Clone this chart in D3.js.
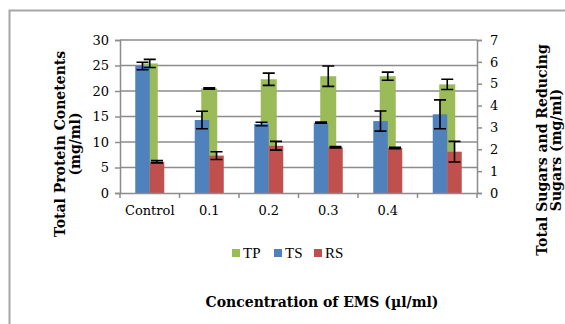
<!DOCTYPE html>
<html>
<head>
<meta charset="utf-8">
<script src="https://cdn.jsdelivr.net/npm/d3@7"></script>
<style>
  body { margin: 0; background: #fff; }
  text { font-family: "Liberation Serif", "DejaVu Serif", serif; fill: #000; }
</style>
</head>
<body>
<svg id="chart" width="565" height="324"></svg>
<script>
// data
var categories = ["Control", "0.1", "0.2", "0.3", "0.4", ""];
var tp    = [25.4, 20.5, 22.3, 22.9, 22.9, 21.3];   // left axis, mg/ml
var tpErr = [0.8, 0.15, 1.2, 2.0, 0.8, 1.0];
var ts    = [5.81, 3.34, 3.16, 3.22, 3.29, 3.6];    // right axis
var tsErr = [0.17, 0.4, 0.08, 0.03, 0.46, 0.66];
var rs    = [1.43, 1.71, 2.16, 2.09, 2.06, 1.89];   // right axis
var rsErr = [0.05, 0.18, 0.2, 0.03, 0.03, 0.47];
var leftTicks = [0, 5, 10, 15, 20, 25, 30];
var rightTicks = [0, 1, 2, 3, 4, 5, 6, 7];

var svg = d3.select("#chart");
var plot = {left: 120, right: 477, top: 40, bottom: 193};
var serif = "'DejaVu Serif', serif";

// chart border
svg.append("path")
  .attr("d", "M9.5,324 L9.5,10.5 L565,10.5")
  .attr("fill", "none").attr("stroke", "#a6a6a6").attr("stroke-width", 2);

var x = d3.scaleBand().domain(d3.range(categories.length))
    .range([plot.left, plot.right]);
var yL = d3.scaleLinear().domain([0, 30]).range([plot.bottom, plot.top]);
var yR = d3.scaleLinear().domain([0, 7]).range([plot.bottom, plot.top]);

// grid
svg.append("g").selectAll("line").data(leftTicks.slice(1)).enter().append("line")
  .attr("x1", plot.left).attr("x2", plot.right)
  .attr("y1", function(d) { return yL(d); }).attr("y2", function(d) { return yL(d); })
  .attr("stroke", "#8c8c8c").attr("stroke-width", 1.5);

var bw = 14.5;
function cx(i) { return x(i) + x.bandwidth() / 2; }

// TP (primary) drawn behind
svg.append("g").selectAll("rect").data(tp).enter().append("rect")
  .attr("x", function(d, i) { return cx(i) - 8; })
  .attr("width", 16)
  .attr("y", function(d) { return yL(d); })
  .attr("height", function(d) { return yL(0) - yL(d); })
  .attr("fill", "#9bbb59");

svg.append("g").selectAll("rect").data(ts).enter().append("rect")
  .attr("x", function(d, i) { return cx(i) - bw; })
  .attr("width", bw)
  .attr("y", function(d) { return yR(d); })
  .attr("height", function(d) { return yR(0) - yR(d); })
  .attr("fill", "#4f81bd");

svg.append("g").selectAll("rect").data(rs).enter().append("rect")
  .attr("x", function(d, i) { return cx(i); })
  .attr("width", bw)
  .attr("y", function(d) { return yR(d); })
  .attr("height", function(d) { return yR(0) - yR(d); })
  .attr("fill", "#c0504d");

// error bars
function errBars(vals, errs, scale, off) {
  var g = svg.append("g").attr("stroke", "#000").attr("stroke-width", 1.6).attr("fill", "none");
  vals.forEach(function(v, i) {
    var xc = cx(i) + off;
    var hi = scale(v + errs[i]), lo = scale(v - errs[i]);
    g.append("path")
      .attr("d", "M" + xc + "," + hi + "V" + lo +
                 "M" + (xc - 6) + "," + hi + "H" + (xc + 6) +
                 "M" + (xc - 6) + "," + lo + "H" + (xc + 6));
  });
}
errBars(tp, tpErr, yL, 0);
errBars(ts, tsErr, yR, -bw / 2);
errBars(rs, rsErr, yR, bw / 2);

// axes
var axL = svg.append("g").attr("transform", "translate(" + plot.left + ",0)")
  .call(d3.axisLeft(yL).tickValues(leftTicks).tickSize(5).tickPadding(6));
var axR = svg.append("g").attr("transform", "translate(" + plot.right + ",0)")
  .call(d3.axisRight(yR).tickValues(rightTicks).tickFormat(d3.format("d")).tickSize(5).tickPadding(8));
var axB = svg.append("g").attr("transform", "translate(0," + plot.bottom + ")")
  .call(d3.axisBottom(x).tickFormat(function(i) { return categories[i]; }).tickSize(0).tickPadding(13));

// category boundary ticks
axB.append("g").selectAll("line").data(d3.range(categories.length + 1)).enter().append("line")
  .attr("x1", function(i) { return plot.left + i * x.step(); })
  .attr("x2", function(i) { return plot.left + i * x.step(); })
  .attr("y1", 0).attr("y2", 5)
  .attr("stroke", "#8c8c8c").attr("stroke-width", 1.5);

[axL, axR, axB].forEach(function(a) {
  a.selectAll(".domain, .tick line").attr("stroke", "#8c8c8c").attr("stroke-width", 1.5);
  a.selectAll("text").style("font-size", "13px").style("font-family", serif);
});

// axis titles
var lt = svg.append("text").attr("transform", "translate(60,144) rotate(-90)")
  .attr("text-anchor", "middle").style("font-weight", "bold").style("font-size", "14px")
  .style("font-family", serif);
lt.append("tspan").attr("x", 0).attr("dy", "0.35em").text("Total Protein Conetents");
lt.append("tspan").attr("x", 0).attr("dy", "1.05em").text("(mg/ml)");

var rt = svg.append("text").attr("transform", "translate(543,150) rotate(-90)")
  .attr("text-anchor", "middle").style("font-weight", "bold").style("font-size", "14px")
  .style("font-family", serif);
rt.append("tspan").attr("x", 0).attr("dy", "0.3em").text("Total Sugars and Reducing");
rt.append("tspan").attr("x", 0).attr("dy", "1em").text("Sugars (mg/ml)");

svg.append("text").attr("x", 322).attr("y", 307).attr("text-anchor", "middle")
  .style("font-weight", "bold").style("font-size", "14px").style("font-family", serif)
  .text("Concentration of EMS (\u00b5l/ml)");

// legend
var legend = [["TP", "#9bbb59"], ["TS", "#4f81bd"], ["RS", "#c0504d"]];
var lg = svg.append("g").attr("transform", "translate(232,253)");
var lx = [0, 42, 82];
legend.forEach(function(d, i) {
  lg.append("rect").attr("x", lx[i]).attr("y", -4).attr("width", 8).attr("height", 8).attr("fill", d[1]);
  lg.append("text").attr("x", lx[i] + 11).attr("y", 5).style("font-size", "15px").text(d[0]);
});
</script>
</body>
</html>
